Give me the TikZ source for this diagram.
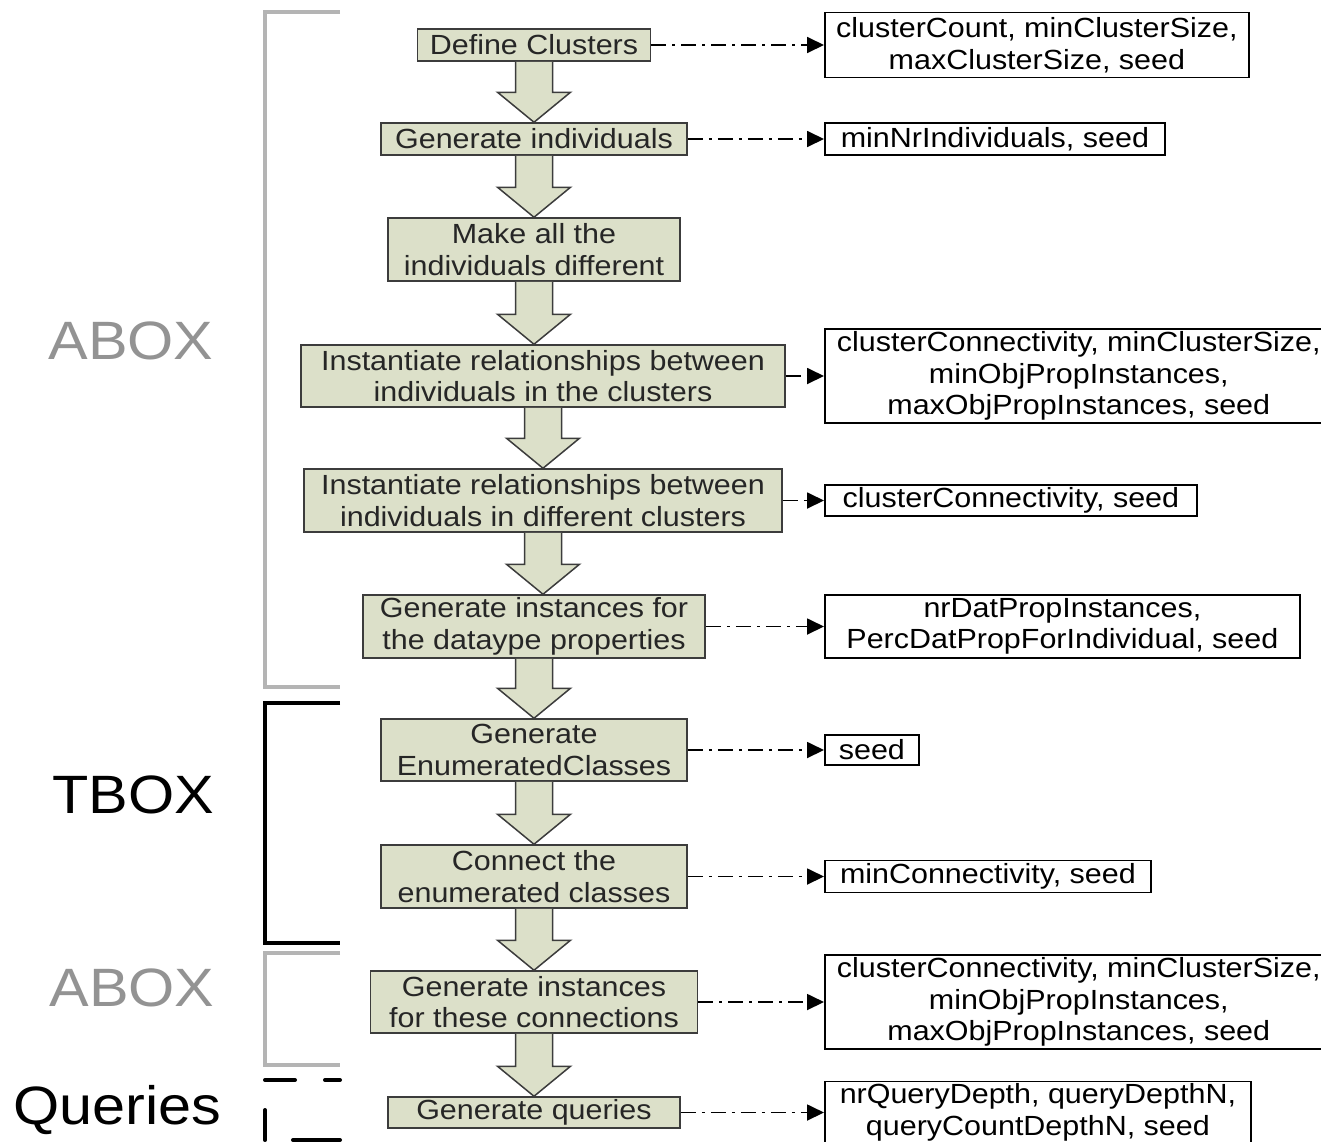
\documentclass[tikz,border=0pt]{standalone}
\usepackage{fontspec}
\setmainfont{Liberation Sans}[FakeStretch=1.1]
\usetikzlibrary{positioning,calc,arrows.meta}

\definecolor{boxfill}{HTML}{DCE0C9}
\definecolor{boxline}{HTML}{3C3C3C}
\definecolor{boxtext}{HTML}{262626}
\definecolor{aboxline}{HTML}{B4B4B4}
\definecolor{aboxtext}{HTML}{939393}

\tikzset{
    stepbox/.style={draw=boxline, fill=boxfill, line width=1.5pt, align=center,
        inner xsep=4pt, inner ysep=0pt, text=boxtext,
        font=\fontsize{27.7}{31.5}\selectfont},
    parbox/.style={draw=black, fill=white, line width=1.8pt, align=center,
        inner xsep=9pt, inner ysep=0pt, anchor=west,
        font=\fontsize{27.7}{31.5}\selectfont},
    flowlink/.style={line width=1.8pt, dash pattern=on 15pt off 6pt on 3pt off 6pt,
        -{Triangle[length=17pt,width=16pt]}},
    bigarrow/.style={draw=boxline, fill=boxfill, line width=1.5pt, line join=miter},
    grouplabel/.style={font=\fontsize{54}{60}\selectfont},
    aboxbracket/.style={draw=aboxline, line width=4pt},
    tboxbracket/.style={draw=black, line width=4pt},
    querybracket/.style={draw=black, line width=4pt, line cap=round,
        dash pattern=on 15pt off 30pt on 30pt off 30pt on 30pt off 28pt on 47pt off 30pt}
}

% block arrow from the bottom of #1 down to the top of #2
\newcommand{\steparrow}[2]{%
    \draw[bigarrow] ($(#1.south)+(-18.5,0)$) -- ($(#1.south |- #2.north)+(-18.5,-30)$)
        -- ($(#1.south |- #2.north)+(-36.5,-30)$) -- (#1.south |- #2.north)
        -- ($(#1.south |- #2.north)+(36.5,-30)$) -- ($(#1.south |- #2.north)+(18.5,-30)$)
        -- ($(#1.south)+(18.5,0)$);
}

\begin{document}
\begin{tikzpicture}[x=1pt,y=-1pt]
    \useasboundingbox (0,0) rectangle (1321,1141);

    % steps
    \node[stepbox, minimum width=233, minimum height=32] (s1) at (534,45) {Define Clusters};
    \node[stepbox, minimum width=306, minimum height=32] (s2) at (534,139) {Generate individuals};
    \node[stepbox, minimum width=292, minimum height=63] (s3) at (534,249.5) {Make all the\\individuals different};
    \node[stepbox, minimum width=484, minimum height=62] (s4) at (543,376) {Instantiate relationships between\\individuals in the clusters};
    \node[stepbox, minimum width=478, minimum height=63] (s5) at (543,500.5) {Instantiate relationships between\\individuals in different clusters};
    \node[stepbox, minimum width=342, minimum height=63] (s6) at (534,626.5) {Generate instances for\\the dataype properties};
    \node[stepbox, minimum width=306, minimum height=62] (s7) at (534,750) {Generate\\EnumeratedClasses};
    \node[stepbox, minimum width=306, minimum height=63] (s8) at (534,876.5) {Connect the\\enumerated classes};
    \node[stepbox, minimum width=327, minimum height=62] (s9) at (534,1002) {Generate instances\\for these connections};
    \node[stepbox, minimum width=292, minimum height=31] (s10) at (534,1112.5) {Generate queries};

    \steparrow{s1}{s2}
    \steparrow{s2}{s3}
    \steparrow{s3}{s4}
    \steparrow{s4}{s5}
    \steparrow{s5}{s6}
    \steparrow{s6}{s7}
    \steparrow{s7}{s8}
    \steparrow{s8}{s9}
    \steparrow{s9}{s10}

    % parameters
    \coordinate (px) at (824,0);
    \node[parbox, minimum width=424, minimum height=65] (p1) at (s1.east -| px) {clusterCount, minClusterSize,\\maxClusterSize, seed};
    \node[parbox, minimum width=340, minimum height=32] (p2) at (s2.east -| px) {minNrIndividuals, seed};
    \node[parbox, minimum height=94, inner xsep=12pt] (p3) at (s4.east -| px) {clusterConnectivity, minClusterSize,\\minObjPropInstances,\\maxObjPropInstances, seed};
    \node[parbox, minimum width=372, minimum height=31] (p4) at (s5.east -| px) {clusterConnectivity, seed};
    \node[parbox, minimum width=475, minimum height=63] (p5) at (s6.east -| px) {nrDatPropInstances,\\PercDatPropForIndividual, seed};
    \node[parbox, minimum width=94, minimum height=30] (p6) at (s7.east -| px) {seed};
    \node[parbox, minimum width=326, minimum height=32] (p7) at (s8.east -| px) {minConnectivity, seed};
    \node[parbox, minimum height=94, inner xsep=12pt] (p8) at (s9.east -| px) {clusterConnectivity, minClusterSize,\\minObjPropInstances,\\maxObjPropInstances, seed};
    \node[parbox, minimum width=426, minimum height=62] (p9) at (s10.east -| px) {nrQueryDepth, queryDepthN,\\queryCountDepthN, seed};

    \draw[flowlink] (s1.east) -- (p1.west);
    \draw[flowlink] (s2.east) -- (p2.west);
    \draw[flowlink] (s4.east) -- (p3.west);
    \draw[flowlink] (s5.east) -- (p4.west);
    \draw[flowlink] (s6.east) -- (p5.west);
    \draw[flowlink] (s7.east) -- (p6.west);
    \draw[flowlink] (s8.east) -- (p7.west);
    \draw[flowlink] (s9.east) -- (p8.west);
    \draw[flowlink] (s10.east) -- (p9.west);

    % groups
    \node[grouplabel, text=aboxtext] (g1) at (131,341) {ABOX};
    \node[grouplabel] (g2) at (133,795) {TBOX};
    \node[grouplabel, text=aboxtext] (g3) at (132,988) {ABOX};
    \node[grouplabel] (g4) at (117,1110) {Queries};

    \draw[aboxbracket] (340,12) -- (265,12) -- (265,687) -- (340,687);
    \draw[tboxbracket] (340,703) -- (265,703) -- (265,943) -- (340,943);
    \draw[aboxbracket] (340,953) -- (265,953) -- (265,1065) -- (340,1065);
    \draw[querybracket] (340,1080) -- (265,1080) -- (265,1140) -- (340,1140);
\end{tikzpicture}
\end{document}
